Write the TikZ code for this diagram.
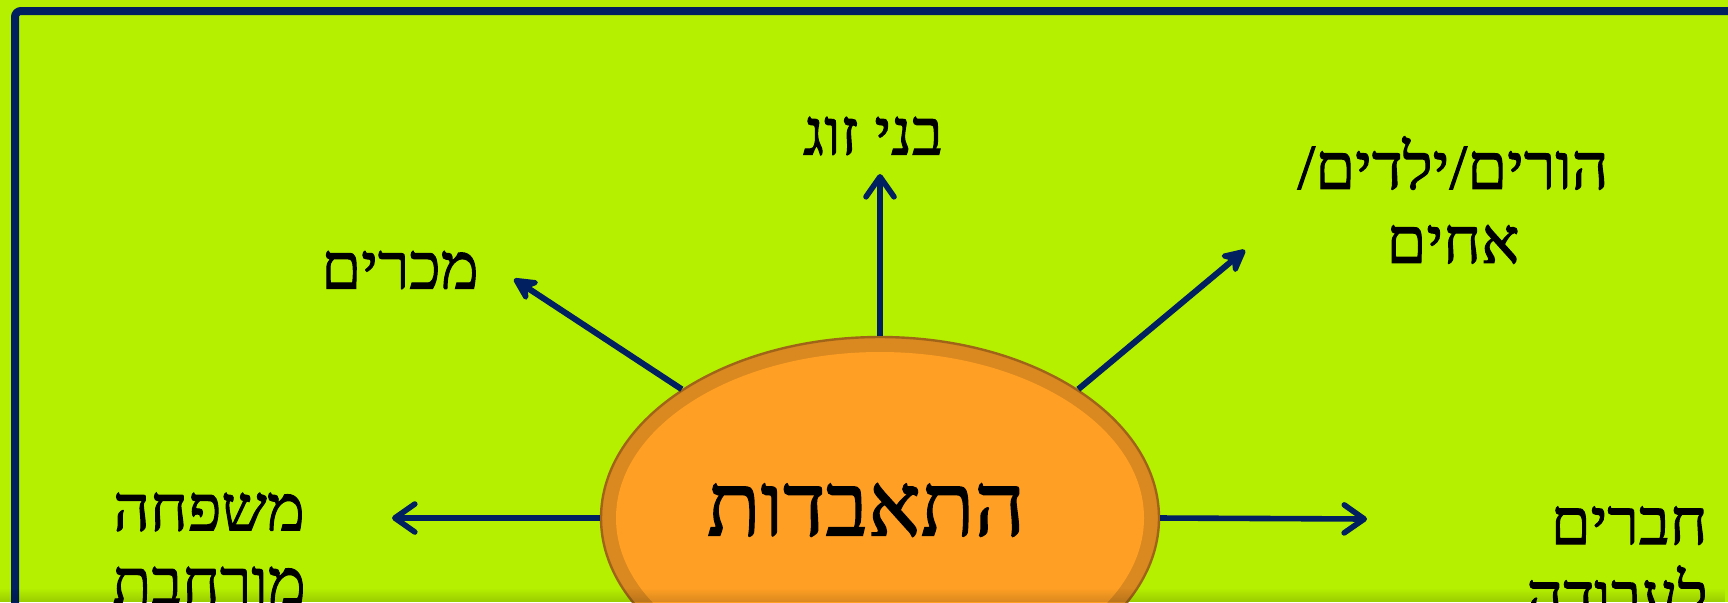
\documentclass[tikz,border=0pt]{standalone}
\usepackage{fontspec}
\usetikzlibrary{arrows.meta,shapes.geometric,fadings}
\TeXXeTstate=1
\newfontfamily\hebfont[Script=Hebrew, FakeBold=1.6]{Liberation Serif}
\newcommand{\heb}[1]{{\hebfont\beginR #1\endR}}
\definecolor{bggreen}{RGB}{181,240,0}
\definecolor{navy}{RGB}{0,32,96}
\definecolor{ringorange}{RGB}{218,136,32}
\definecolor{coreorange}{RGB}{255,160,36}
\definecolor{rimbrown}{RGB}{160,100,24}

\begin{document}
\begin{tikzpicture}[x=0.5pt,y=-0.5pt,
  labeltext/.style={font=\fontsize{32}{37}\selectfont, align=center, inner sep=0pt},
  spoke/.style={navy, line width=2.8pt, -{Straight Barb[length=10pt, width=14pt, round]}},
  slantspoke/.style={navy, line width=3pt, -{Stealth[length=15pt, width=15pt, inset=5pt, round]}}]
\useasboundingbox (0,0) rectangle (1728,602);
\clip (0,0) rectangle (1728,602);
\fill[bggreen] (0,0) rectangle (1728,602);
\draw[navy, line width=4pt, rounded corners=3pt] (15,660) -- (15,11) -- (1780,11);
% centre
\node[ellipse, fill=ringorange, draw=rimbrown, line width=1.2pt, minimum width=279pt, minimum height=181pt, inner sep=0pt] (core) at (880,518) {};
\node[ellipse, fill=coreorange, minimum width=264pt, minimum height=166pt, inner sep=0pt] (corefill) at (core.center) {};
\node[font=\fontsize{44}{50}\selectfont, inner sep=0pt] (coretext) at (866,510) {\heb{התאבדות}};
% labels
\node[labeltext] (zug) at (873,136) {\heb{בני זוג}};
\node[labeltext] (makirim) at (400,270) {\heb{מכרים}};
\node[labeltext] (horim) at (1453,200) {\heb{הורים/ילדים/}\\\heb{אחים}};
\node[labeltext] (mishpacha) at (209,549) {\heb{משפחה}\\\heb{מורחבת}};
\node[labeltext, align=right, anchor=north east] (haverim) at (1708,506) {\heb{חברים}\\\heb{לעבודה}};
% arrow tips
\coordinate (zugtip) at (880,174);
\coordinate (makirimtip) at (514,279);
\coordinate (horimtip) at (1245,250);
\coordinate (mishpachatip) at (392,518);
\coordinate (haverimtip) at (1367,519);
\draw[spoke] (core.north) -- (zugtip);
\draw[spoke] (core.west) -- (mishpachatip);
\draw[spoke] (core.east) -- (haverimtip);
\draw[slantspoke] (core.147) -- (makirimtip);
\draw[slantspoke] (core.33) -- (horimtip);
\fill[black, fill opacity=0.15, path fading=north] (0,588) rectangle (1728,602);
\end{tikzpicture}
\end{document}
